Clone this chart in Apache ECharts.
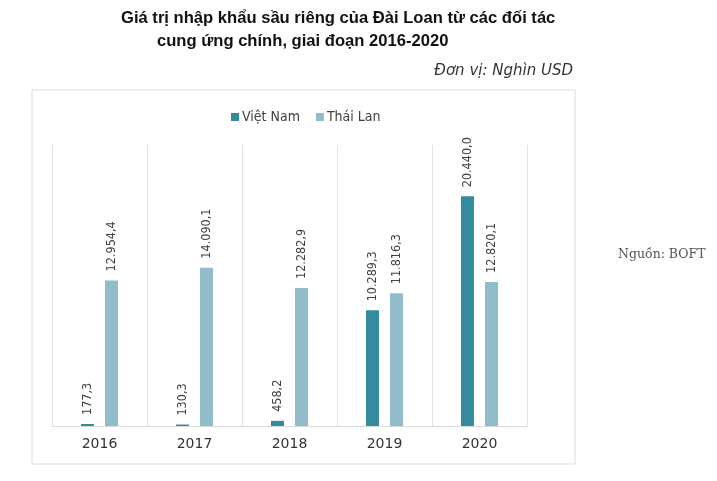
<!DOCTYPE html>
<html>
<head>
<meta charset="utf-8">
<script src="https://cdn.jsdelivr.net/npm/echarts@6/dist/echarts.min.js"></script>
<style>
html, body { margin: 0; padding: 0; background: #fff; }
#chart { width: 717px; height: 481px; }
</style>
</head>
<body>
<div id="chart"></div>
<script>
var years = ['2016', '2017', '2018', '2019', '2020'];
var vietNam = [177.3, 130.3, 458.2, 10289.3, 20440.0];
var thaiLan = [12954.4, 14090.1, 12282.9, 11816.3, 12820.1];

// 12954.4 -> "12.954,4"
function fmtVN(v) {
    var parts = v.toFixed(1).split('.');
    var intPart = parts[0].replace(/\B(?=(\d{3})+(?!\d))/g, '.');
    return intPart + ',' + parts[1];
}

var labelStyle = {
    show: true,
    position: 'top',
    rotate: 90,
    align: 'left',
    verticalAlign: 'middle',
    distance: 9,
    color: '#404040',
    fontSize: 12.5,
    fontFamily: 'DejaVu Sans Condensed',
    formatter: function (p) { return fmtVN(p.value); }
};

var chart = echarts.init(document.getElementById('chart'));
chart.setOption({
    backgroundColor: '#fff',
    animation: false,
    title: [
        {
            text: 'Giá trị nhập khẩu sầu riêng của Đài Loan từ các đối tác',
            left: 116, top: 5,
            textStyle: { fontSize: 16.6, fontWeight: 'bold', color: '#111', fontFamily: 'Liberation Sans' }
        },
        {
            text: 'cung ứng chính, giai đoạn 2016-2020',
            left: 152, top: 28,
            textStyle: { fontSize: 16.6, fontWeight: 'bold', color: '#111', fontFamily: 'Liberation Sans' }
        },
        {
            text: 'Đơn vị: Nghìn USD',
            right: 139, top: 59,
            textStyle: { fontSize: 15, fontWeight: 'normal', fontStyle: 'italic', color: '#333', fontFamily: 'DejaVu Sans' }
        },
        {
            text: 'Nguồn: BOFT',
            left: 613, top: 243,
            textStyle: { fontSize: 12.5, fontWeight: 'normal', color: '#555', fontFamily: 'DejaVu Serif' }
        }
    ],
    graphic: [{
        type: 'rect',
        shape: { x: 32, y: 90, width: 543, height: 374 },
        style: { fill: 'none', stroke: '#dcdcdc', lineWidth: 1 },
        silent: true
    }],
    legend: {
        data: ['Việt Nam', 'Thái Lan'],
        left: 226, top: 105,
        itemWidth: 8, itemHeight: 8, itemGap: 16,
        icon: 'rect',
        textStyle: { fontSize: 14, color: '#404040', fontFamily: 'DejaVu Sans Condensed', padding: [0, 0, 0, -2] }
    },
    grid: { left: 52, right: 190, top: 145, bottom: 55, containLabel: false },
    xAxis: {
        type: 'category',
        data: years,
        axisLine: { lineStyle: { color: '#d9d9d9' } },
        axisTick: { show: false },
        splitLine: { show: true, lineStyle: { color: '#e3e3e3' } },
        axisLabel: { fontSize: 14, color: '#333', margin: 11, fontFamily: 'DejaVu Sans' }
    },
    yAxis: {
        type: 'value',
        min: 0, max: 25000,
        show: false,
        splitLine: { show: false }
    },
    series: [
        {
            name: 'Việt Nam', type: 'bar', data: vietNam,
            barWidth: 13, barGap: '85%',
            itemStyle: { color: '#358b9e' },
            label: labelStyle
        },
        {
            name: 'Thái Lan', type: 'bar', data: thaiLan,
            barWidth: 13,
            itemStyle: { color: '#92bccb' },
            label: labelStyle
        }
    ]
});
</script>
</body>
</html>
